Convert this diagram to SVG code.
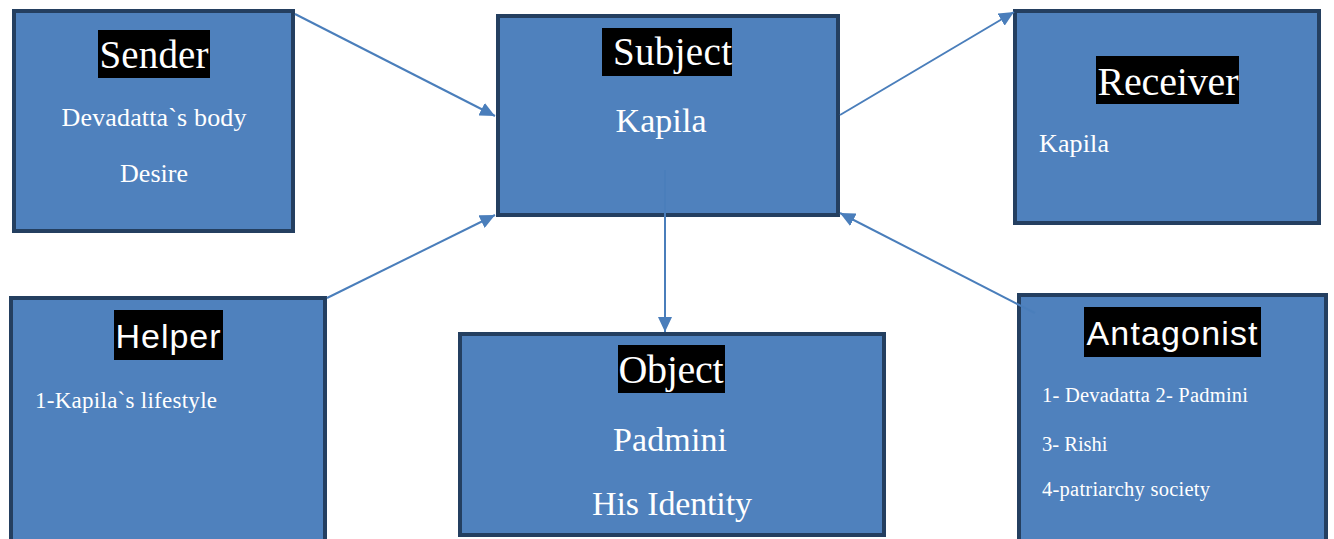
<svg xmlns="http://www.w3.org/2000/svg" width="1334" height="539" viewBox="0 0 1334 539">
<style>
.box{fill:#4f81bd;stroke:#243f60;stroke-width:4}
.lbl{fill:#000}
.t{fill:#fff;font-family:"Liberation Serif","Times New Roman",serif}
.s{fill:#fff;font-family:"Liberation Sans",Arial,sans-serif}
.c{fill:none;stroke:#4a7ebb;stroke-width:2}
</style>
<defs>
<marker id="ah" markerUnits="userSpaceOnUse" markerWidth="16" markerHeight="14" refX="15" refY="7" orient="auto">
<path d="M0,0 L15,7 L0,14 z" fill="#4a7ebb"/>
</marker>
</defs>
<rect width="1334" height="539" fill="#fff"/>
<g id="sender">
<rect class="box" x="14" y="11" width="279" height="220"/>
<rect class="lbl" x="98" y="30" width="112" height="48"/>
<text class="t" x="154" y="68" font-size="39" text-anchor="middle" textLength="109">Sender</text>
<text class="t" x="154" y="126" font-size="26" text-anchor="middle" textLength="185">Devadatta`s body</text>
<text class="t" x="154" y="182" font-size="26" text-anchor="middle">Desire</text>
</g>
<g id="subject">
<rect class="box" x="498" y="16" width="340" height="199"/>
<rect class="lbl" x="602" y="28" width="130" height="48"/>
<text class="t" x="613" y="65" font-size="39" textLength="119">Subject</text>
<text class="t" x="661" y="132" font-size="34" text-anchor="middle" textLength="91">Kapila</text>
</g>
<g id="receiver">
<rect class="box" x="1015" y="11" width="304" height="212"/>
<rect class="lbl" x="1096" y="56" width="143" height="48"/>
<text class="t" x="1168" y="95" font-size="40" text-anchor="middle" textLength="141">Receiver</text>
<text class="t" x="1039" y="152" font-size="26" textLength="70">Kapila</text>
</g>
<g id="helper">
<rect class="box" x="11" y="298" width="314" height="245"/>
<rect class="lbl" x="114" y="310" width="109" height="50"/>
<text class="s" x="168" y="348" font-size="34" text-anchor="middle" textLength="105">Helper</text>
<text class="t" x="35" y="408" font-size="23" textLength="182">1-Kapila`s lifestyle</text>
</g>
<g id="object">
<rect class="box" x="460" y="334" width="424" height="201"/>
<rect class="lbl" x="618" y="345" width="107" height="48"/>
<text class="t" x="671" y="383" font-size="40" text-anchor="middle" textLength="105">Object</text>
<text class="t" x="670" y="451" font-size="34" text-anchor="middle" textLength="114">Padmini</text>
<text class="t" x="672" y="515" font-size="34" text-anchor="middle" textLength="160">His Identity</text>
</g>
<g id="antagonist">
<rect class="box" x="1019" y="295" width="307" height="250"/>
<rect class="lbl" x="1084" y="307" width="177" height="50"/>
<text class="s" x="1172" y="345" font-size="34" text-anchor="middle" textLength="171">Antagonist</text>
<text class="t" x="1042" y="402" font-size="20.5" textLength="206">1- Devadatta 2- Padmini</text>
<text class="t" x="1042" y="451" font-size="20.5">3- Rishi</text>
<text class="t" x="1042" y="496" font-size="20.5" textLength="168">4-patriarchy society</text>
</g>
<g id="connectors">
<line class="c" x1="295" y1="14" x2="495" y2="116" marker-end="url(#ah)"/>
<line class="c" x1="327" y1="298" x2="495" y2="215" marker-end="url(#ah)"/>
<line class="c" x1="840" y1="115" x2="1014" y2="12" marker-end="url(#ah)"/>
<line class="c" x1="1035" y1="313" x2="840" y2="213" marker-end="url(#ah)"/>
<line class="c" x1="665" y1="170" x2="665" y2="332" marker-end="url(#ah)"/>
</g>
</svg>
